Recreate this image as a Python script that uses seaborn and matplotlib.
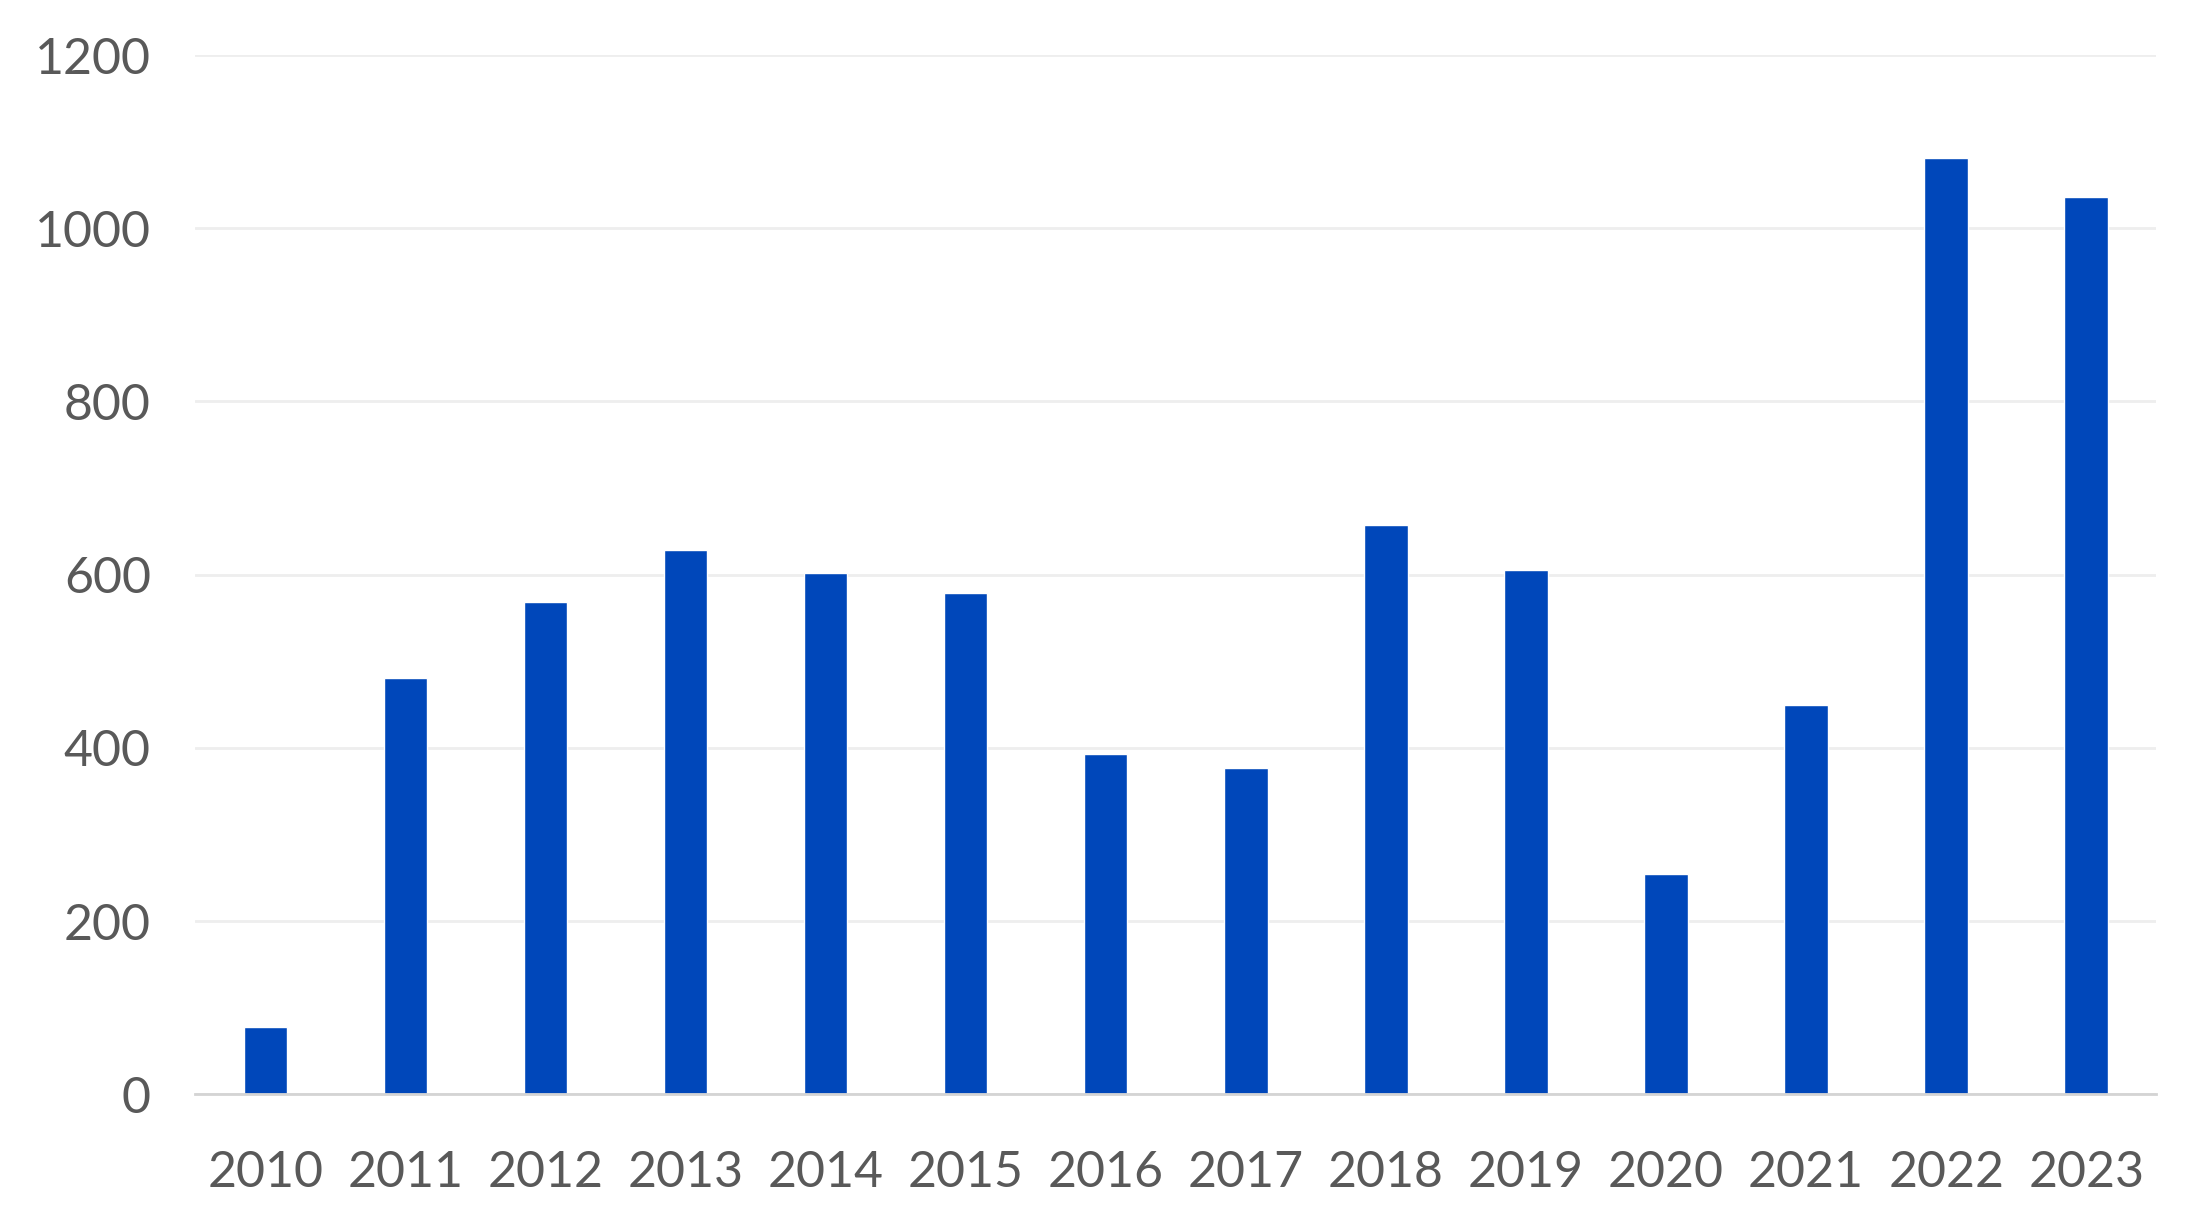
import numpy as np
import pandas as pd
import matplotlib
matplotlib.use("Agg")
import matplotlib.pyplot as plt
import seaborn as sns

years = ["2010", "2011", "2012", "2013", "2014", "2015", "2016",
         "2017", "2018", "2019", "2020", "2021", "2022", "2023"]
values = [78, 481, 569, 629, 602, 579, 393, 377, 657, 605, 254, 450, 1081, 1036]
yticks = [0, 200, 400, 600, 800, 1000, 1200]

df = pd.DataFrame({"Year": years, "Value": values})

sns.set_style("white")
plt.rcParams["font.family"] = ["Lato", "DejaVu Sans"]

fig, ax = plt.subplots(figsize=(22.07, 12.24), dpi=100)
fig.subplots_adjust(left=0.0885, right=0.977, top=0.955, bottom=0.106)

sns.barplot(data=df, x="Year", y="Value", color="#0047BA", width=0.31,
            saturation=1, ax=ax, zorder=3)

ax.set_ylim(0, 1200)
ax.set_xlim(-0.5, len(years) - 0.5)
ax.set_yticks(yticks)
ax.yaxis.grid(True, color="#eeeeee", linewidth=2, zorder=0)
ax.set_xlabel("")
ax.set_ylabel("")

for side in ["top", "right", "left"]:
    ax.spines[side].set_visible(False)
ax.spines["bottom"].set_color("#d4d4d4")
ax.spines["bottom"].set_linewidth(2)
ax.spines["bottom"].set_zorder(4)

ax.tick_params(axis="both", length=0, labelsize=36, labelcolor="#595959")
ax.tick_params(axis="y", pad=32)
ax.tick_params(axis="x", pad=40)

fig.savefig("out.png", dpi=100)
